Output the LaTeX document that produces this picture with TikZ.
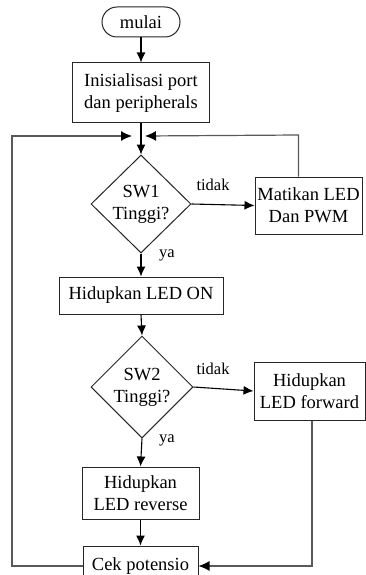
\documentclass[tikz,border=0pt]{standalone}
\usepackage{fontspec}
\setmainfont{Liberation Serif}
\usetikzlibrary{shapes.geometric,arrows.meta}
\begin{document}
\begin{tikzpicture}[x=1pt,y=-1pt,
  every node/.style={font=\fontsize{18.5}{22}\selectfont, align=center, text=black},
  box/.style={draw=black!85, line width=1pt, rectangle, inner sep=0pt},
  term/.style={box, rounded corners=15pt},
  dec/.style={draw=black!85, line width=1pt, diamond, aspect=1, inner sep=0pt},
  flow/.style={draw=black, line width=1.1pt, -{Latex[length=10pt,width=9pt]}},
  loopline/.style={draw=black!65, line width=1.2pt, -{Latex[length=11pt,width=10pt,color=black]}},
  lbl/.style={font=\fontsize{16.5}{20}\selectfont}
]
\useasboundingbox (0,0) rectangle (366,575);
\clip (0,0) rectangle (366,575);
\fill[white] (0,0) rectangle (366,575);

\node[term, minimum width=78pt, minimum height=30pt] (mulai) at (141,22) {mulai};
\node[box, minimum width=137pt, minimum height=60pt] (init) at (141,93) {Inisialisasi port\\dan peripherals};
\node[dec, minimum width=100pt, minimum height=98pt] (d1) at (141,204) {SW1\\Tinggi?};
\node[box, minimum width=107pt, minimum height=57pt] (mat) at (308.5,205.5) {Matikan LED\\Dan PWM};
\node[box, minimum width=164pt, minimum height=37pt] (on) at (141,295.5) {Hidupkan LED ON};
\node[dec, minimum width=102pt, minimum height=102pt] (d2) at (142,387) {SW2\\Tinggi?};
\node[box, minimum width=111pt, minimum height=58pt] (fwd) at (309.5,391) {Hidupkan\\LED forward};
\node[box, minimum width=117pt, minimum height=52pt] (rev) at (140.5,493) {Hidupkan\\LED reverse};
\node[box, minimum width=115pt, minimum height=40pt] (cek) at (140.5,566) {Cek potensio};

\node[lbl] (t1) at (213,185) {tidak};
\node[lbl] (y1) at (167,255) {ya};
\node[lbl] (t2) at (213,369) {tidak};
\node[lbl] (y2) at (167,440) {ya};

\coordinate (jL) at (132,136);
\coordinate (jR) at (145,136);

\draw[flow] (mulai.south) -- (init.north);
\draw[flow] (init.south) -- (d1.north);
\draw[flow] (d1.east) -- (mat.west);
\draw[flow] (d1.south) -- (on.north);
\draw[flow] (on.south) -- (d2.north);
\draw[flow] (d2.east) -- (fwd.west);
\draw[flow] (d2.south) -- (rev.north);
\draw[flow] (rev.south) -- (cek.north);

\draw[loopline] ([xshift=-10pt]mat.north) -- ++(0,-41.5) -- (jR);
\draw[loopline] (cek.west) -- (12,566) -- (12,136) -- (jL);
\draw[loopline] ([xshift=2.5pt]fwd.south) |- (cek.east);
\end{tikzpicture}
\end{document}
